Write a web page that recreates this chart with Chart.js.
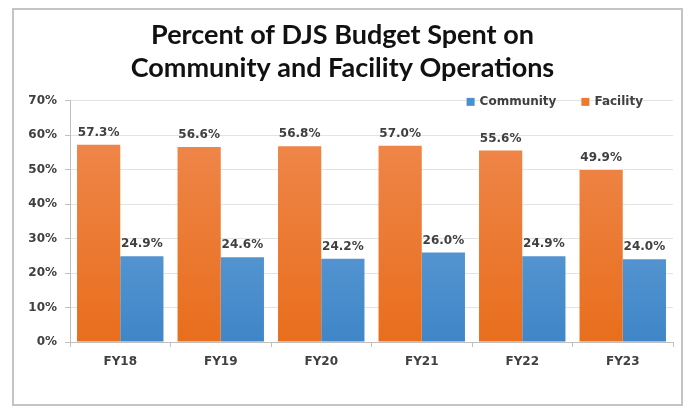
<!DOCTYPE html>
<html>
<head>
<meta charset="utf-8">
<script src="https://cdn.jsdelivr.net/npm/chart.js@4.4.1/dist/chart.umd.min.js"></script>
<style>
  html, body { margin: 0; padding: 0; background: #ffffff; }
  #frame { position: absolute; left: 12px; top: 8px; width: 667px; height: 394px; border: 2px solid #c4c4c4; }
  #wrap { position: absolute; left: 0; top: 0; width: 691px; height: 406px; }
</style>
</head>
<body>
<div id="frame"></div>
<div id="wrap"><canvas id="c" width="691" height="406"></canvas></div>
<script>
const categories = ['FY18', 'FY19', 'FY20', 'FY21', 'FY22', 'FY23'];
const facility = [57.3, 56.6, 56.8, 57.0, 55.6, 49.9];
const community = [24.9, 24.6, 24.2, 26.0, 24.9, 24.0];
const yTicks = [0, 10, 20, 30, 40, 50, 60, 70];
const titleLines = ['Percent of DJS Budget Spent on', 'Community and Facility Operations'];
const legendOrder = ['Community', 'Facility'];

const FONT = "Lato, 'Open Sans', sans-serif";
const VFONT = "'DejaVu Sans', Verdana, sans-serif";
const SOLID = { Facility: '#EE7A30', Community: '#4A90D0' };

function grad(ctx, top, bottom) {
  const chart = ctx.chart;
  const area = chart.chartArea;
  if (!area) return bottom;
  const g = chart.ctx.createLinearGradient(0, area.top, 0, area.bottom);
  g.addColorStop(0, top);
  g.addColorStop(1, bottom);
  return g;
}

const valueLabels = {
  id: 'valueLabels',
  afterDatasetsDraw(chart) {
    const ctx = chart.ctx;
    ctx.save();
    ctx.font = "bold 12px " + VFONT;
    ctx.fillStyle = '#404040';
    ctx.textAlign = 'center';
    ctx.textBaseline = 'bottom';
    chart.data.datasets.forEach((ds, di) => {
      const meta = chart.getDatasetMeta(di);
      meta.data.forEach((bar, i) => {
        ctx.fillText(ds.data[i].toFixed(1) + '%', bar.x, bar.y - 6);
      });
    });
    ctx.restore();
  }
};

const innerLegend = {
  id: 'innerLegend',
  afterDraw(chart) {
    const ctx = chart.ctx;
    const area = chart.chartArea;
    ctx.save();
    ctx.font = "bold 12px " + VFONT;
    ctx.textBaseline = 'middle';
    ctx.textAlign = 'left';
    const box = 8, gap = 5, itemGap = 25;
    const widths = legendOrder.map(n => box + gap + ctx.measureText(n).width);
    const total = widths.reduce((a, b) => a + b, 0) + itemGap * (legendOrder.length - 1);
    let x = area.right - 30 - total;
    const y = area.top + 1;
    legendOrder.forEach((name, i) => {
      ctx.fillStyle = SOLID[name];
      ctx.fillRect(x, y - box / 2, box, box);
      ctx.fillStyle = '#404040';
      ctx.fillText(name, x + box + gap, y);
      x += widths[i] + itemGap;
    });
    ctx.restore();
  }
};

new Chart(document.getElementById('c'), {
  type: 'bar',
  data: {
    labels: categories,
    datasets: [
      {
        label: 'Facility',
        data: facility,
        backgroundColor: (ctx) => grad(ctx, '#F08A52', '#E86E1C'),
        borderWidth: 0,
        categoryPercentage: 0.86,
        barPercentage: 1.0
      },
      {
        label: 'Community',
        data: community,
        backgroundColor: (ctx) => grad(ctx, '#76ACDE', '#3F86C8'),
        borderWidth: 0,
        categoryPercentage: 0.86,
        barPercentage: 1.0
      }
    ]
  },
  options: {
    responsive: false,
    animation: false,
    devicePixelRatio: 1,
    layout: { padding: { left: 12, right: 18, top: 0, bottom: 22 } },
    plugins: {
      title: {
        display: true,
        text: titleLines,
        color: '#111111',
        font: { family: FONT, size: 27, weight: 'bold', lineHeight: 1.22 },
        padding: { top: 19, bottom: 16 }
      },
      legend: { display: false },
      tooltip: { enabled: false }
    },
    scales: {
      x: {
        grid: { offset: true, drawOnChartArea: false, drawTicks: true, tickLength: 5, color: '#bfbfbf' },
        border: { color: '#bfbfbf' },
        ticks: { color: '#404040', font: { family: VFONT, size: 12, weight: 'bold' }, padding: 8 },
        afterFit(s) { s.height = 42; }
      },
      y: {
        min: 0,
        max: 70,
        afterBuildTicks(s) { s.ticks = yTicks.map(v => ({ value: v })); },
        grid: { color: '#e3e3e3', tickLength: 5, tickColor: '#bfbfbf' },
        border: { color: '#bfbfbf' },
        ticks: {
          color: '#404040',
          font: { family: VFONT, size: 12, weight: 'bold' },
          padding: 8,
          callback: (v) => v + '%'
        },
        afterFit(s) { s.width = 58; }
      }
    }
  },
  plugins: [valueLabels, innerLegend]
});
</script>
</body>
</html>
